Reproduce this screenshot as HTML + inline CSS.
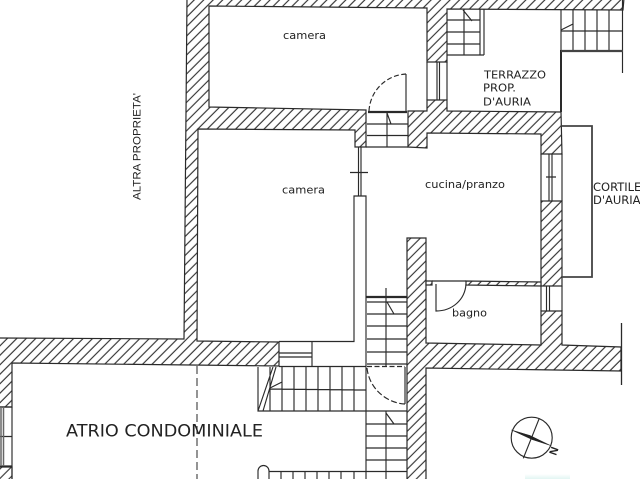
<!DOCTYPE html>
<html>
<head>
<meta charset="utf-8">
<style>
html,body{margin:0;padding:0;background:#fff;width:640px;height:479px;overflow:hidden}
svg{display:block;filter:blur(0.35px)}
text{font-family:"DejaVu Sans","Liberation Sans",sans-serif;fill:#222}
</style>
</head>
<body>
<svg width="640" height="479" viewBox="0 0 640 479" xmlns="http://www.w3.org/2000/svg">
<defs>
<pattern id="h" width="6.7" height="6.7" patternUnits="userSpaceOnUse" patternTransform="rotate(45)">
<rect width="6.7" height="6.7" fill="#fff"/>
<line x1="3.3" y1="0" x2="3.3" y2="6.7" stroke="#333" stroke-width="1.15"/>
</pattern>
<linearGradient id="t" x1="0" x2="0" y1="0" y2="1"><stop offset="0" stop-color="#fff"/><stop offset="1" stop-color="#e2f5f2"/></linearGradient>
</defs>
<rect width="640" height="479" fill="#fff"/>
<rect x="525" y="474" width="45" height="5" fill="url(#t)"/>

<g fill="url(#h)" stroke="#2a2a2a" stroke-width="1.2" stroke-linejoin="miter">
<path d="M187,-2 L624,-2 L623,10 L447,9 L447,62 L427,62 L427,8 L209,6 L209,107 L366,110 L366,147 L355,147 L355,130 L198,129 L197,341 L279,342 L279,366 L12,363 L12,407 L-2,407 L-2,338 L184,339 Z"/>
<path d="M427,100 L447,100 L447,111 L561,112 L562,154 L541,154 L541,134 L427,133 L427,148 L408,147 L408,111 L427,111 Z"/>
<path d="M541,201 L562,201 L562,286 L541,286 Z"/>
<path d="M541,311 L562,311 L562,345 L621,347 L621,371 L426,368 L426,481 L407,481 L407,238 L426,238 L426,343 L541,345 Z"/>
<path d="M466,281 L541,282 L541,286 L466,285 Z"/>
<path d="M426,281 L432,281 L432,285 L426,285 Z"/>
<path d="M-2,467 L12,467 L12,481 L-2,481 Z"/>
</g>

<g fill="none" stroke="#2a2a2a" stroke-width="1.15">
<!-- partition walls -->
<path d="M279,341.500 H354 V196 H366 V479"/>
<path d="M358.500,147 V196 M361,147 V196 M350,172.500 H368"/>

<!-- stair under first door -->
<path d="M387,113 V147 M367,124 H408 M367,135.500 H408 M387,113 L391,124 M366,147 H408"/>
<path d="M368,112 H407" stroke-width="2.200"/>
<path d="M406,111 V74"/>
<path d="M369,111 C370,91 386,75 406,74" stroke-dasharray="5 2.500"/>

<!-- terrace stair -->
<path d="M447,20 H480 M447,32 H480 M447,44 H480 M447,55 H484 M464,9 V55 M463,10 L472,21 M480,9 V55 M484,9 V55"/>
<!-- terrace window -->
<path d="M437,62 V100 M439.500,62 V100 M427,62 V100 M447,62 V100"/>

<!-- right stair -->
<path d="M561,10 V50 M573,10 V50 M585,10 V50 M597,10 V50 M609,10 V50 M622.500,0 V73 M561,31 H622 M561,30 L573,24"/>
<path d="M561,50 V112" stroke-width="2"/>
<path d="M561,51 H623" stroke-width="2.200" stroke="#444"/>

<!-- balcony -->
<path d="M562,126 H592 V277 H562" stroke-width="1.800" stroke="#444"/>

<!-- kitchen windows -->
<path d="M541,154 V201 M562,154 V201 M549,154 V201 M552,154 V201 M546,177 H556"/>
<path d="M541,286 V311 M562,286 V311 M546.500,286 V311 M549.500,286 V311"/>

<!-- right wall tail -->
<path d="M621.500,323 V385" stroke-width="1.300"/>

<!-- bath door -->
<path d="M436,284 V311 C452,311 465,300 466,284"/>
<path d="M432,281 H466"/>

<!-- lower window of main room -->
<path d="M312,342 V366 M279,353 H312 M279,357 H312"/>
<path d="M279,366.500 H366"/>

<!-- upper-right stairs beside door -->
<path d="M366,297 H407" stroke-width="2.200"/>
<path d="M367,302 H407 M367,314 H407 M367,326 H407 M367,339 H407 M367,352 H407 M367,364 H407 M386,288 V366 M387,302 L394,314"/>

<!-- door at bottom -->
<path d="M367,366.500 H405" stroke-dasharray="5 2.500"/>
<path d="M405,367 V404"/>
<path d="M367,368 C369,388 386,403 405,404" stroke-dasharray="6 2.500"/>

<!-- left stair -->
<path d="M258,367 V411 H366 M270,367 V411 M282,367 V411 M294,367 V411 M306,367 V411 M318,367 V411 M330,367 V411 M342,367 V411 M354,367 V411 M270,389 L366,390 M270,388 L282,382 M273,367 L258,411 M276,367 L263,411"/>

<!-- lower right stair -->
<path d="M366,411 H407 M366,424 H407 M366,436 H407 M366,448 H407 M366,460 H407 M366,471.500 H407 M386,411 V479 M386,413 L394,424"/>

<!-- bottom stair -->
<path d="M258,479 V471 A5.500,5.500 0 0 1 269,471 V479 M269,471.500 H366 M281,471 V479 M293,471 V479 M305,471 V479 M317,471 V479 M329,471 V479 M341,471 V479 M354,471 V479"/>

<!-- left window -->
<path d="M12,407 V479 M0,407 H12 M0,436.500 H12 M0,466 H12"/>
<path d="M1,407 V466 M3.500,407 V466" stroke="#666" stroke-width="1.500"/>

<!-- dashed axis -->
<path d="M197,366 V479" stroke-dasharray="8 4" stroke="#444"/>

<!-- compass -->
<circle cx="531.700" cy="437.700" r="20.500"/>
<path d="M539.300,418.300 L523.300,458.300"/>
</g>
<path d="M511.500,430 L530,435.500 L550.500,445.500 L532,439.500 Z" fill="#222" stroke="#222" stroke-width=".5"/>

<text x="283" y="39" font-size="11" textLength="43" lengthAdjust="spacingAndGlyphs">camera</text>
<text x="282" y="193.500" font-size="11" textLength="43" lengthAdjust="spacingAndGlyphs">camera</text>
<text x="425" y="188" font-size="11" textLength="80" lengthAdjust="spacingAndGlyphs">cucina/pranzo</text>
<text x="484" y="78.700" font-size="11" textLength="62" lengthAdjust="spacingAndGlyphs">TERRAZZO</text>
<text x="483" y="91.500" font-size="11" textLength="33" lengthAdjust="spacingAndGlyphs">PROP.</text>
<text x="483" y="105.700" font-size="11" textLength="48" lengthAdjust="spacingAndGlyphs">D'AURIA</text>
<text x="593" y="191" font-size="11.500">CORTILE</text>
<text x="593" y="204" font-size="11.500">D'AURIA</text>
<text x="452" y="316.700" font-size="11" textLength="35" lengthAdjust="spacingAndGlyphs">bagno</text>
<text x="66" y="436.500" font-size="16.500" textLength="197" lengthAdjust="spacingAndGlyphs">ATRIO CONDOMINIALE</text>
<text transform="translate(140.500,200) rotate(-90)" font-size="11" style="font-family:'Liberation Sans',sans-serif" textLength="107" lengthAdjust="spacingAndGlyphs">ALTRA PROPRIETA'</text>
<text transform="translate(556,456) rotate(-70)" font-size="11" font-weight="bold" style="font-family:'Liberation Sans',sans-serif">N</text>
</svg>
</body>
</html>
